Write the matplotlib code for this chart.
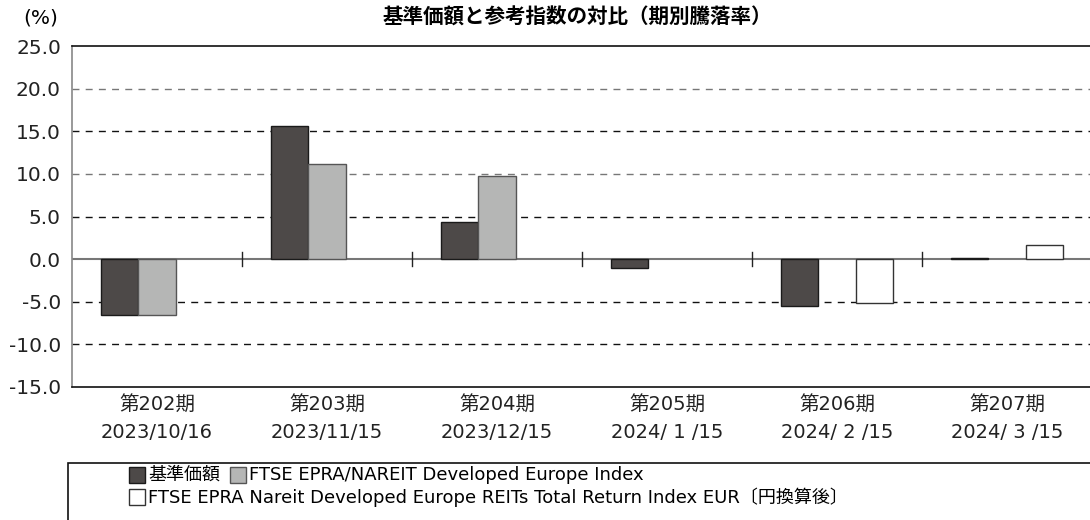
import matplotlib
matplotlib.use("Agg")
import matplotlib.pyplot as plt
from matplotlib.patches import Rectangle
import numpy as np

plt.rcParams['font.family'] = ['DejaVu Sans', 'Noto Sans CJK JP']

periods = ['第202期', '第203期', '第204期', '第205期', '第206期', '第207期']
dates = ['2023/10/16', '2023/11/15', '2023/12/15', '2024/ 1 /15', '2024/ 2 /15', '2024/ 3 /15']

fund = [-6.5, 15.6, 4.3, -1.0, -5.5, 0.1]
index_old = [-6.6, 11.2, 9.7, np.nan, np.nan, np.nan]
index_new = [np.nan, np.nan, np.nan, np.nan, -5.2, 1.6]

labels = ['基準価額', 'FTSE EPRA/NAREIT Developed Europe Index',
          'FTSE EPRA Nareit Developed Europe REITs Total Return Index EUR〔円換算後〕']
colors = ['#4d4948', '#b5b6b5', '#ffffff']
edges = ['#1a1a1a', '#555555', '#333333']

W, H = 1090, 520
fig = plt.figure(figsize=(W / 100, H / 100), dpi=100)
ax = fig.add_axes([72 / W, 1 - 387 / H, 1020 / W, 341 / H])

x = np.arange(len(periods))
bw = 0.22
for k, vals in enumerate([fund, index_old, index_new]):
    ax.bar(x + (k - 1) * bw, vals, width=bw, color=colors[k],
           edgecolor=edges[k], linewidth=1.0, zorder=3)

ax.set_xlim(-0.5, len(periods) - 0.5)
ax.set_ylim(-15, 25)
yt = np.arange(-15, 25.1, 5)
ax.set_yticks(yt)
ax.set_yticklabels([f'{v:.1f}' for v in yt], fontsize=14.5)

for v in [20, 15, 10, 5, -5, -10]:
    c = '#777777' if v in (20, 10) else '#111111'
    ax.axhline(v, color=c, linestyle=(0, (5, 4.5)), linewidth=1.0, zorder=1)
ax.axhline(0, color='#777777', linewidth=1.5, zorder=2)

# separators between periods on the zero line
for b in x[:-1] + 0.5:
    ax.plot([b, b], [-0.85, 0.85], color='#222222', linewidth=1.0, zorder=2)

ax.set_xticks(x)
ax.set_xticklabels([f'{p}\n{d}' for p, d in zip(periods, dates)], fontsize=14,
                   linespacing=1.55)
ax.tick_params(axis='both', length=0, colors='#222222')
ax.tick_params(axis='x', pad=6)
ax.tick_params(axis='y', pad=8)

ax.spines['right'].set_visible(False)
ax.spines['left'].set_color('#888888')
ax.spines['top'].set_color('#111111')
ax.spines['bottom'].set_color('#111111')
for s in ['left', 'top', 'bottom']:
    ax.spines[s].set_linewidth(1.2)

fig.text(577 / W, 1 - 18 / H, '基準価額と参考指数の対比（期別騰落率）',
         ha='center', va='center', fontsize=14.8, fontweight='bold')
fig.text(41 / W, 1 - 18 / H, '(%)', ha='center', va='center', fontsize=14.5)

# legend box
fig.patches.append(Rectangle((68 / W, -0.05), 1.1, (1 - 463 / H) + 0.05,
                             transform=fig.transFigure, facecolor='none',
                             edgecolor='#111111', linewidth=1.2))
legend_pos = [(129, 475), (230, 475), (129, 497)]
for k, (lx, ly) in enumerate(legend_pos):
    fig.patches.append(Rectangle((lx / W, 1 - (ly + 8) / H), 16 / W, 16 / H,
                                 transform=fig.transFigure, facecolor=colors[k],
                                 edgecolor=edges[k], linewidth=1.0))
    fig.text((lx + 19) / W, 1 - ly / H, labels[k], ha='left', va='center',
             fontsize=13)

fig.savefig('out.png', dpi=100)
